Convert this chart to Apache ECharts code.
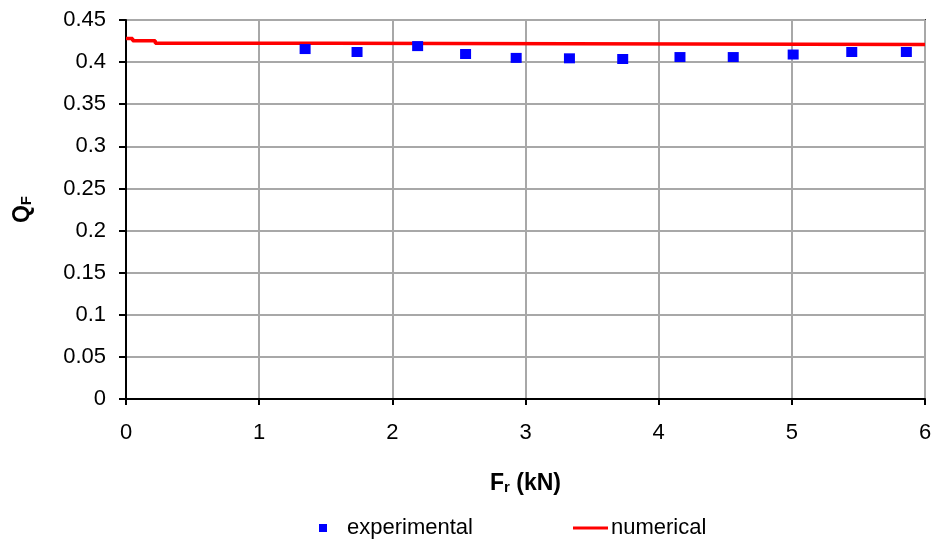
<!DOCTYPE html>
<html>
<head>
<meta charset="utf-8">
<script src="https://cdn.jsdelivr.net/npm/echarts@6/dist/echarts.min.js"></script>
<style>
html,body{margin:0;padding:0;background:#fff;}
#c{width:931px;height:541px;}
</style>
</head>
<body>
<div id="c"></div>
<script>
// Experimental measurements
var expX = [1.345, 1.735, 2.19, 2.55, 2.93, 3.33, 3.73, 4.16, 4.56, 5.01, 5.45, 5.86];
var expY = [0.4155, 0.412, 0.419, 0.4096, 0.405, 0.4045, 0.4037, 0.406, 0.406, 0.409, 0.412, 0.412];
// Numerical curve (step corners)
var numX = [0, 0.05, 0.22, 1.53, 6];
var numY = [0.428, 0.4255, 0.4225, 0.421, 0.4205];

var FONT = '"Liberation Sans", Arial, sans-serif';

function pairs(xs, ys) { return xs.map(function (x, i) { return [x, ys[i]]; }); }

var chart = echarts.init(document.getElementById('c'));
chart.setOption({
  animation: false,
  backgroundColor: '#ffffff',
  textStyle: { fontFamily: FONT },
  grid: {
    left: 126, right: 6, top: 20, bottom: 142,
    outerBoundsMode: 'none', containLabel: false,
    show: true, borderColor: '#333333', borderWidth: 2, backgroundColor: 'transparent'
  },
  xAxis: {
    type: 'value', min: 0, max: 6, interval: 1,
    axisLine: { show: true, onZero: false, lineStyle: { color: '#000', width: 2 } },
    axisTick: { show: true, length: 6, lineStyle: { color: '#000', width: 2 } },
    axisLabel: { color: '#000', fontSize: 22, fontFamily: FONT, margin: 23 },
    splitLine: { show: true, lineStyle: { color: '#a8a8a8', width: 2 } },
    name: '{m|F}{s|r}{m| (kN)}',
    nameLocation: 'middle', nameGap: 70,
    nameTextStyle: {
      rich: {
        m: { fontSize: 23, fontWeight: 'bold', fontFamily: FONT, color: '#000', verticalAlign: 'bottom', lineHeight: 26 },
        s: { fontSize: 15, fontWeight: 'bold', fontFamily: FONT, color: '#000', verticalAlign: 'bottom', lineHeight: 22 }
      }
    }
  },
  yAxis: {
    type: 'value', min: 0, max: 0.45, interval: 0.05,
    axisLine: { show: true, onZero: false, lineStyle: { color: '#000', width: 2 } },
    axisTick: { show: true, length: 7, lineStyle: { color: '#000', width: 2 } },
    axisLabel: { color: '#000', fontSize: 22, fontFamily: FONT, margin: 20 },
    splitLine: { show: true, lineStyle: { color: '#a8a8a8', width: 2 } },
    name: '{m|Q}{s|F}',
    nameLocation: 'middle', nameGap: 92, nameRotate: 90,
    nameTextStyle: {
      rich: {
        m: { fontSize: 23, fontWeight: 'bold', fontFamily: FONT, color: '#000', verticalAlign: 'bottom', lineHeight: 26 },
        s: { fontSize: 15, fontWeight: 'bold', fontFamily: FONT, color: '#000', verticalAlign: 'bottom', lineHeight: 22 }
      }
    }
  },
  legend: [
    {
      data: [{ name: 'experimental', icon: 'rect' }],
      left: 319, top: 517, padding: 0, itemWidth: 8, itemHeight: 8,
      textStyle: { fontSize: 22, color: '#000', fontFamily: FONT, padding: [0, 0, 0, 15] }
    },
    {
      data: [{ name: 'numerical', icon: 'rect' }],
      left: 573, top: 517, padding: 0, itemWidth: 35, itemHeight: 3,
      textStyle: { fontSize: 22, color: '#000', fontFamily: FONT, padding: [0, 0, 0, -2] }
    }
  ],
  series: [
    {
      name: 'numerical', type: 'line', step: 'end',
      data: pairs(numX, numY),
      showSymbol: false, symbol: 'none',
      lineStyle: { color: '#ff0000', width: 3.5 },
      itemStyle: { color: '#ff0000' },
      z: 2
    },
    {
      name: 'experimental', type: 'scatter',
      data: pairs(expX, expY),
      symbol: 'rect', symbolSize: [11, 10],
      itemStyle: { color: '#0000ff', opacity: 1 },
      z: 3
    }
  ]
});
</script>
</body>
</html>
